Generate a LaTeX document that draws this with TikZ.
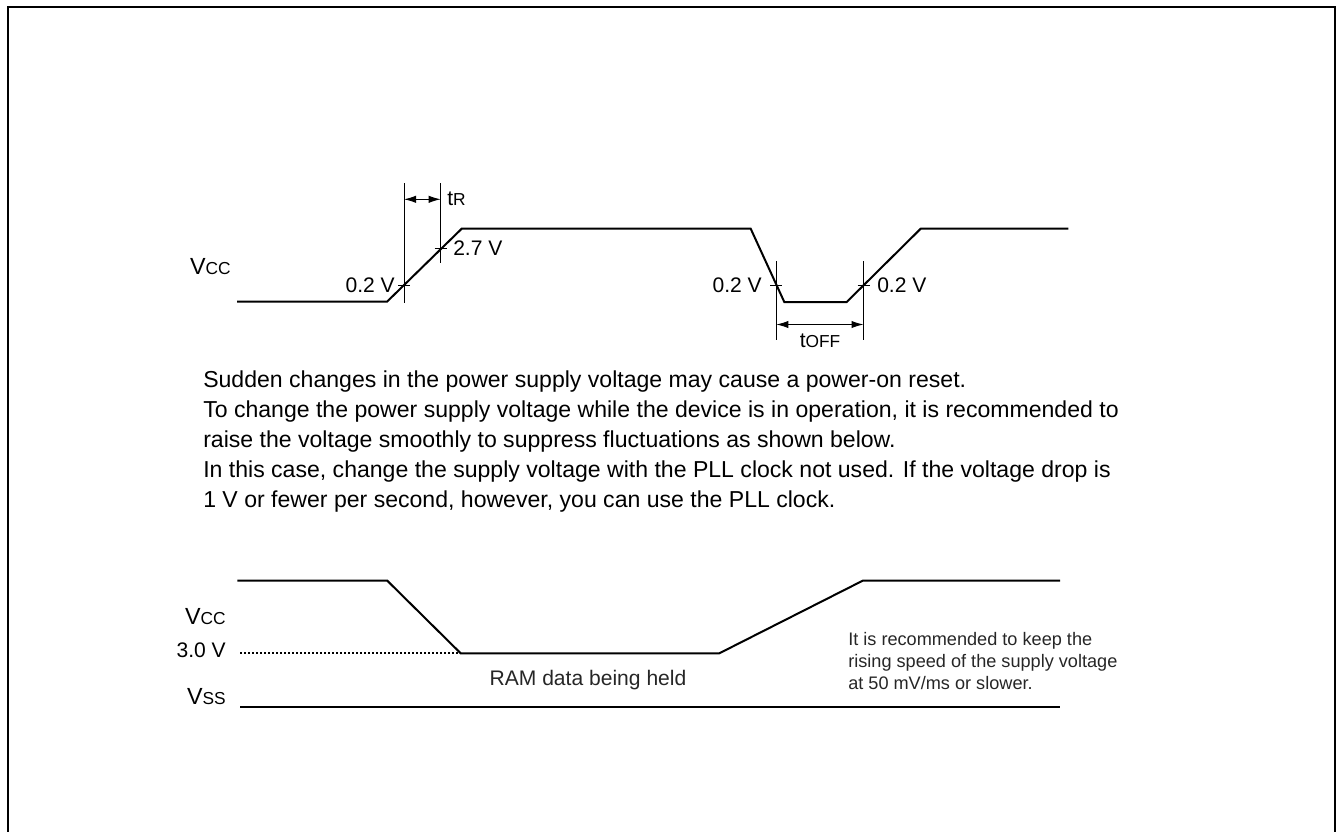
\documentclass[tikz,border=0pt]{standalone}
\usepackage{fontspec}
\setmainfont{Liberation Sans}
\usetikzlibrary{arrows.meta}

\newcommand{\bigV}{{\fontsize{17.5}{17.5}\selectfont V}}
\newcommand{\subtxt}[1]{{\fontsize{13}{13}\selectfont #1}}

\begin{document}
\begin{tikzpicture}[x=0.75pt,y=0.75pt,yscale=-1,xscale=1]
\useasboundingbox (0,0) rectangle (1336,832);
\tikzset{
  wave/.style={line width=1.5pt, line join=miter},
  thinline/.style={line width=0.75pt},
  dimline/.style={line width=0.75pt, {Latex[length=9pt,width=5.5pt]}-{Latex[length=9pt,width=5.5pt]}},
  lbl/.style={inner sep=0.75pt, font=\fontsize{15.8}{15.8}\selectfont}
}

%Frame (open at the bottom)
\draw [line width=1.5pt] (7.5,832) -- (7.5,6.5) -- (1334.5,6.5) -- (1334.5,832) ;

%Wave: power-on / off
\draw [wave] (237,301.7) -- (387,301.7) -- (461.7,228.7) -- (750.7,228.7) -- (784.3,302) -- (846.7,302) -- (920.7,228.7) -- (1068.3,228.7) ;

%Straight Lines: tR limits
\draw [thinline] (404,183) -- (404,303) ;
\draw [thinline] (440.7,183) -- (440.7,263) ;
\coordinate (rA) at (404,199.3) ;
\coordinate (rB) at (440.7,199.3) ;
\draw [dimline] (rA) -- (rB) ;
%Straight Lines: tOFF limits
\draw [thinline] (776.3,261) -- (776.3,339.5) ;
\draw [thinline] (863.5,261) -- (863.5,339.5) ;
\coordinate (oA) at (776.3,324.5) ;
\coordinate (oB) at (863.5,324.5) ;
\draw [dimline] (oA) -- (oB) ;

%Ticks at the levels
\draw [thinline] (398,285) -- (410,285) ;
\draw [thinline] (434.7,248) -- (446.7,248) ;
\draw [thinline] (770.3,285) -- (782.3,285) ;
\draw [thinline] (857.5,285) -- (869.5,285) ;

% Text Node
\draw (232,267) node [anchor=east][lbl] (vccTop) {\bigV\subtxt{CC}};
% Text Node
\draw (446,199) node [anchor=west][lbl] (tr) {t\subtxt{R}};
% Text Node
\draw (452,248) node [anchor=west][lbl] (lvHigh) {2.7 V};
% Text Node
\draw (396,285) node [anchor=east][lbl] (lvRise) {0.2 V};
% Text Node
\draw (763,285) node [anchor=east][lbl] (lvFall) {0.2 V};
% Text Node
\draw (876,285) node [anchor=west][lbl] (lvBack) {0.2 V};
% Text Node
\draw (820,341) node [lbl] (toff) {t\subtxt{OFF}};

% Text Node
\draw (203,371) node [anchor=north west][inner sep=0pt][align=left][font=\fontsize{17.3}{22.5}\selectfont] (para) {Sudden changes in the power supply voltage may cause a power-on reset.\\
To change the power supply voltage while the device is in operation, it is recommended to\\
raise the voltage smoothly to suppress fluctuations as shown below.\\
In this case, change the supply voltage with the PLL clock not used. If the voltage drop is\\
1 V or fewer per second, however, you can use the PLL clock.};

%Wave: holding RAM data
\draw [wave] (237.3,580.7) -- (387.3,580.7) -- (460.7,653.3) -- (719.3,653.3) -- (862.7,580.7) -- (1060,580.7) ;
%Dotted level line
\draw [line width=1.5pt, dash pattern={on 1.5pt off 1.5pt}] (240,653.3) -- (458,653.3) ;
%Vss line
\draw [wave] (240,707.3) -- (1060,707.3) ;

% Text Node
\draw (227,616.7) node [anchor=east][lbl] (vccLow) {\bigV\subtxt{CC}};
% Text Node
\draw (227,650.7) node [anchor=east][lbl] (lvHold) {3.0 V};
% Text Node
\draw (227,696.7) node [anchor=east][lbl] (vss) {\bigV\subtxt{SS}};
% Text Node
\draw (588,680) node [lbl][text=black!85] (ram) {RAM data being held};
% Text Node
\draw (848,632) node [anchor=north west][inner sep=0pt][align=left][text=black!85][font=\fontsize{13.6}{16.4}\selectfont] (note) {It is recommended to keep the\\
rising speed of the supply voltage\\
at 50 mV/ms or slower.};

\end{tikzpicture}
\end{document}
